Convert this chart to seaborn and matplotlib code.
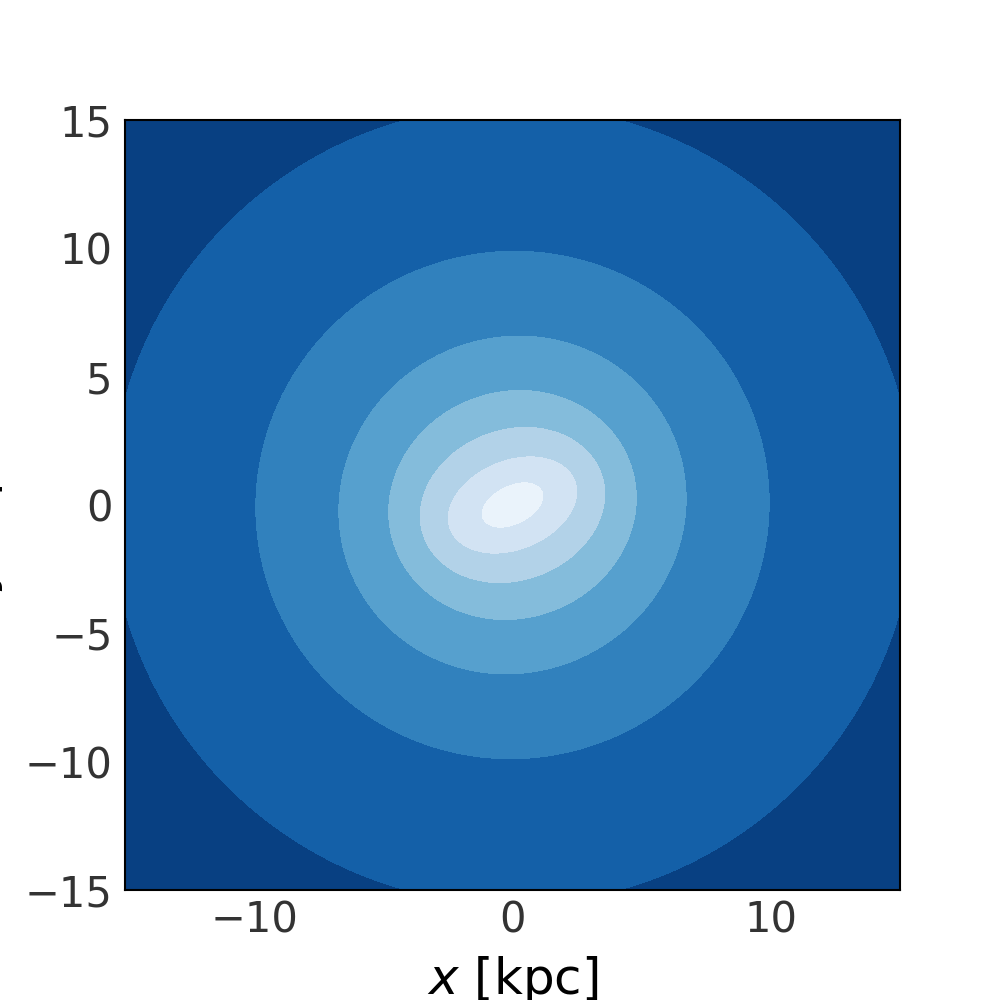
import numpy as np
import seaborn as sns
import matplotlib
matplotlib.use("Agg")
import matplotlib.pyplot as plt

# Contour boundaries (kpc), innermost first:
# semi-major axis, semi-minor axis and tilt of each boundary ellipse
major = np.array([1.30, 2.63, 3.69, 4.88, 6.83, 10.0, 15.6])
minor = np.array([0.78, 1.77, 2.97, 4.45, 6.55, 9.9, 15.6])
tilt_deg = np.array([26.0, 22.0, 20.0, 20.0, 30.0, 30.0, 30.0])

x_ticks = [-10, 0, 10]
y_ticks = [-15, -10, -5, 0, 5, 10, 15]
extent = 15

sns.set_theme(style="white")
plt.rcParams['font.family'] = ['DejaVu Sans']

# Field whose iso-lines are the measured ellipses
grid = np.linspace(-extent, extent, 700)
X, Y = np.meshgrid(grid, grid)
s = np.hypot(X, Y)
for _ in range(40):
    q = np.interp(s, major, minor / major)
    th = np.deg2rad(np.interp(s, major, tilt_deg))
    u = X * np.cos(th) + Y * np.sin(th)
    v = -X * np.sin(th) + Y * np.cos(th)
    s = 0.5 * s + 0.5 * np.sqrt(u ** 2 + (v / q) ** 2)

levels = np.concatenate([[0.0], major, [40.0]])
cmap = sns.color_palette("Blues", as_cmap=True)
n_bands = len(levels) - 1
colors = [cmap((i + 0.5) / n_bands) for i in range(n_bands)]

fig, ax = plt.subplots(figsize=(10, 10), dpi=100)
ax.contourf(X, Y, s, levels=levels, colors=colors)

ax.set_xlim(-extent, extent)
ax.set_ylim(-extent, extent)
ax.set_xticks(x_ticks)
ax.set_yticks(y_ticks)
ax.tick_params(axis='both', length=0, labelsize=30, labelcolor='.2')
ax.tick_params(axis='x', pad=6.5)
ax.tick_params(axis='y', pad=9)
ax.set_xlabel('$x$ [kpc]', fontsize=36, color='black', labelpad=9)
ax.set_ylabel('$y$ [kpc]', fontsize=36, color='black', labelpad=14)
for sp in ax.spines.values():
    sp.set_color('black')
    sp.set_linewidth(1.5)

fig.savefig('out.png', dpi=100)
